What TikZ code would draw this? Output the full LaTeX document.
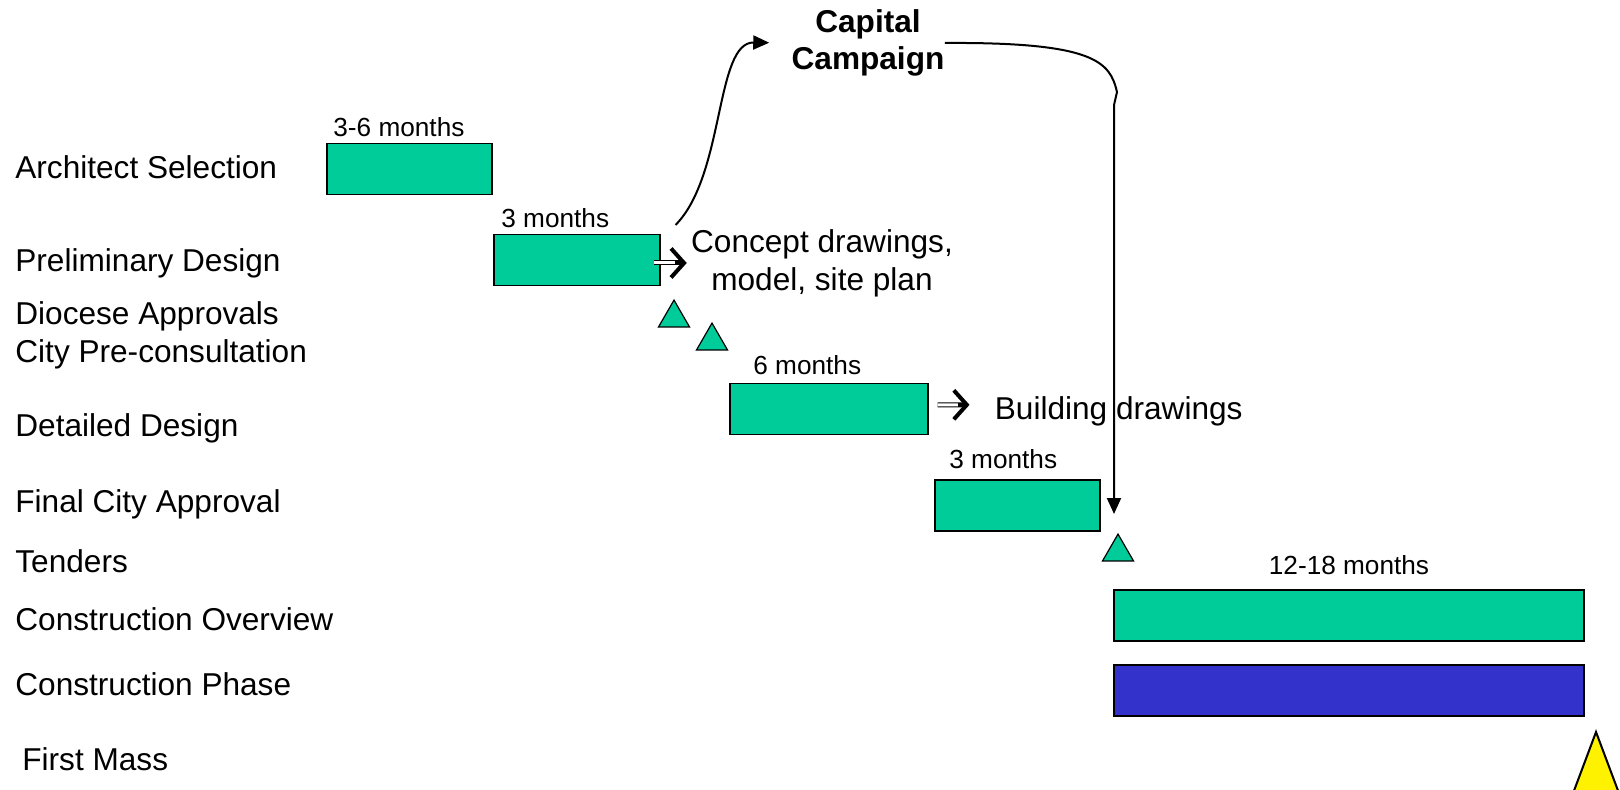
\documentclass[tikz,border=0pt]{standalone}
\usepackage{fontspec}
\setmainfont{Liberation Sans}
\usetikzlibrary{shapes.geometric,arrows.meta,calc}
\definecolor{bargreen}{HTML}{00CC99}
\definecolor{barblue}{HTML}{3333CC}

\begin{document}
\begin{tikzpicture}
  [x=0.5pt,y=-0.5pt,
   task/.style={anchor=base west,inner sep=0pt,font=\fontsize{15.8}{19}\selectfont},
   dur/.style={anchor=base west,inner sep=0pt,font=\fontsize{13.1}{15.7}\selectfont},
   note/.style={inner sep=0pt,align=center,font=\fontsize{15.8}{19}\selectfont},
   bar/.style={draw,fill=bargreen,line width=0.6pt,inner sep=0pt,minimum height=25.5pt},
   gate/.style={draw,fill=bargreen,line width=0.6pt,regular polygon,regular polygon sides=3,inner sep=0pt,minimum size=17.9pt},
   shaft/.style={double,double distance=1.5pt,line width=0.5pt},
   chev/.style={line width=2pt,-{Straight Barb[length=6.5pt,width=14.5pt,line width=2pt]}},
   flow/.style={line width=1pt,-{Triangle[length=8pt,width=7pt]}}]

  \useasboundingbox (0,0) rectangle (1620,790);
  \clip (0,0) rectangle (1620,790);

  \node[task] (tsel) at (15,179) {Architect Selection};
  \node[task] (tpre) at (15,272) {Preliminary Design};
  \node[task] (tdio) at (15,325) {Diocese Approvals};
  \node[task] (tcit) at (15,363) {City Pre-consultation};
  \node[task] (tdet) at (15,437) {Detailed Design};
  \node[task] (tfin) at (15,512) {Final City Approval};
  \node[task] (tten) at (15,572) {Tenders};
  \node[task] (tovr) at (15,630) {Construction Overview};
  \node[task] (tcon) at (15,695) {Construction Phase};
  \node[task] (tmas) at (22,770) {First Mass};

  \node[bar,minimum width=82.5pt] (sel) at (409.5,169) {};
  \node[bar,minimum width=83pt] (pre) at (577,260) {};
  \node[bar,minimum width=99pt] (det) at (829,409) {};
  \node[bar,minimum width=82.5pt] (fin) at (1017.5,505.5) {};
  \node[bar,minimum width=235pt] (ovr) at (1349,615.5) {};
  \node[bar,fill=barblue,minimum width=235pt] (con) at (1349,690.5) {};

  \node[dur] (dsel) at (333,137) {3-6 months};
  \node[dur] (dpre) at (501,228) {3 months};
  \node[dur] (ddet) at (753,375) {6 months};
  \node[dur] (dfin) at (949,468) {3 months};
  \node[dur,anchor=base] (dovr) at (1349,574) {12-18 months};

  \node[gate] (dio) at (674,318) {};
  \node[gate] (cit) at (712,341) {};
  \node[gate] (ten) at (1118,552) {};
  \draw[fill=yellow,line width=1pt] (1596,732) -- (1566,812) -- (1626,812) -- cycle;

  \node[note] (cpt) at (822,263) {Concept drawings,\\model, site plan};
  \node[note,anchor=base west] (bld) at (994.5,420) {Building drawings};
  \node[note,font=\bfseries\fontsize{15.8}{18.5}\selectfont] (cap) at (868,43) {Capital\\Campaign};

  \draw[shaft] ($(pre.east |- cpt.west)+(-7,0)$) -- ($(cpt.west)+(-9,0)$);
  \draw[chev] ($(cpt.west)+(-16,0)$) -- ($(cpt.west)+(-4,0)$);
  \draw[shaft] ($(det.east)+(9,-4)$) -- ($(bld.west)+(-30,-7)$);
  \draw[chev] ($(bld.west)+(-37,-7)$) -- ($(bld.west)+(-25,-7)$);

  \draw[flow,shorten >=11pt] ($(pre.north east)+(15,-9)$) .. controls (725,175) and (715,42) .. (cap.west);
  \draw[flow] (cap.east) .. controls (1095,42) and (1110,62) .. (1117,92) -- (1114,105) -- ($(ten.center)+(-4,-38)$);
\end{tikzpicture}
\end{document}
